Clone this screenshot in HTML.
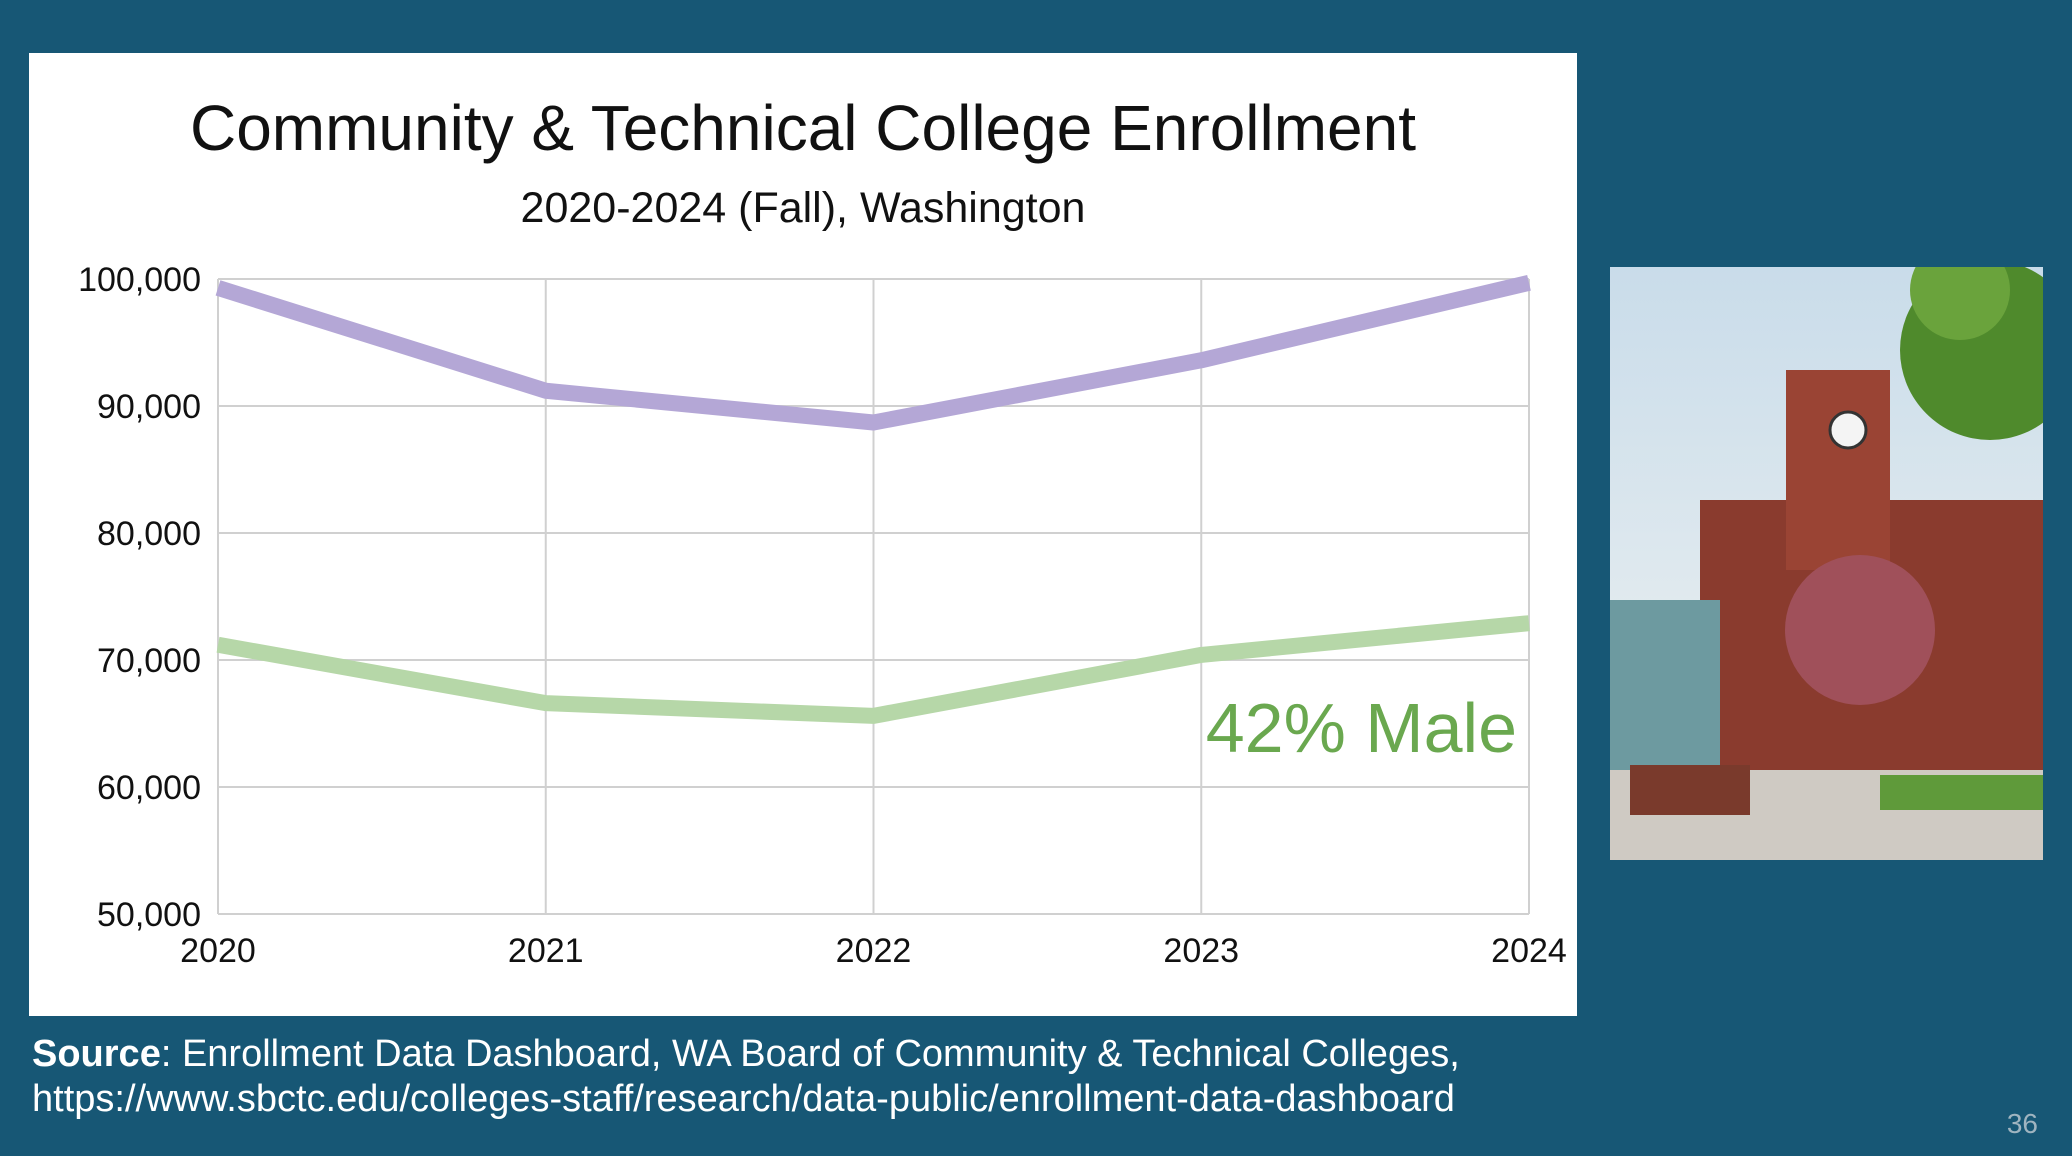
<!DOCTYPE html>
<html><head><meta charset="utf-8"><style>
html,body{margin:0;padding:0}
body{width:2072px;height:1156px;background:#175775;position:relative;overflow:hidden;font-family:"Liberation Sans",Arial,sans-serif}
#panel{position:absolute;left:29px;top:53px;width:1548px;height:963px;background:#fff}
.src{position:absolute;left:32px;color:#fff;font-size:38px;white-space:nowrap}
</style></head><body>
<div id="panel"></div>
<svg id="chart" width="2072" height="1156" style="position:absolute;left:0;top:0">
<text x="803" y="150" text-anchor="middle" font-size="64" fill="#111">Community &amp; Technical College Enrollment</text>
<text x="803" y="222" text-anchor="middle" font-size="43" fill="#111">2020-2024 (Fall), Washington</text>
<g id="grid"></g><g id="series"></g>
<text x="1517" y="752" text-anchor="end" font-size="70" fill="#6aa84f">42% Male</text>
<g clip-path="url(#pc)">
<defs><clipPath id="pc"><rect x="1610" y="267" width="433" height="593"/></clipPath>
<linearGradient id="sky" x1="0" y1="0" x2="0" y2="1"><stop offset="0" stop-color="#c9dcea"/><stop offset="1" stop-color="#f2f4f2"/></linearGradient></defs>
<rect x="1610" y="267" width="433" height="593" fill="url(#sky)"/>
<rect x="1700" y="500" width="343" height="270" fill="#8a3b2e"/>
<rect x="1786" y="370" width="104" height="200" fill="#9a4434"/>
<circle cx="1848" cy="430" r="18" fill="#f4f4f4" stroke="#333" stroke-width="3"/>
<rect x="1610" y="600" width="110" height="170" fill="#6d9aa0"/>
<circle cx="1860" cy="630" r="75" fill="#a0505a"/>
<circle cx="1990" cy="350" r="90" fill="#4f8a2c"/>
<circle cx="1960" cy="290" r="50" fill="#6aa33c"/>
<rect x="1610" y="770" width="433" height="90" fill="#cfcac3"/>
<rect x="1880" y="775" width="163" height="35" fill="#5f9a3a"/>
<rect x="1630" y="765" width="120" height="50" fill="#7a3a2c"/>
</g>
<text x="2038" y="1133" text-anchor="end" font-size="28" fill="#9fb4c0">36</text>
</svg>
<div class="src" style="top:1033px"><b>Source</b>: Enrollment Data Dashboard, WA Board of Community &amp; Technical Colleges,</div>
<div class="src" style="top:1078px">https://www.sbctc.edu/colleges-staff/research/data-public/enrollment-data-dashboard</div>
<script>
const years = ['2020','2021','2022','2023','2024'];
const totalEnrollment = [99300, 91200, 88700, 93600, 99700];
const maleEnrollment = [71200, 66600, 65600, 70400, 72900];
const yTicks = [50000, 60000, 70000, 80000, 90000, 100000];
const NS='http://www.w3.org/2000/svg';
const X0=218,X1=1529,Y0=914,Y1=279,YMIN=50000,YMAX=100000;
const xs=i=>X0+(X1-X0)*i/(years.length-1);
const ys=v=>Y0-(v-YMIN)/(YMAX-YMIN)*(Y0-Y1);
const grid=document.getElementById('grid'),ser=document.getElementById('series');
function mk(t,a,p){const e=document.createElementNS(NS,t);for(const k in a)e.setAttribute(k,a[k]);p.appendChild(e);return e;}
yTicks.forEach(v=>{
  const l=mk('line',{x1:X0,x2:X1,y1:ys(v),y2:ys(v),stroke:'#d0d0d0','stroke-width':2},grid);
  
  
  const t=mk('text',{x:201,y:ys(v)+12,'text-anchor':'end','font-size':34,fill:'#111'},grid);
  t.textContent=v.toLocaleString('en-US');
  
  
});
years.forEach((y,i)=>{
  const l=mk('line',{x1:xs(i),x2:xs(i),y1:Y1,y2:Y0,stroke:'#d0d0d0','stroke-width':2},grid);
  
  
  const t=mk('text',{x:xs(i),y:962,'text-anchor':'middle','font-size':34,fill:'#111'},grid);
  t.textContent=y;
  
  
});
function line(vals,color,name){
  const p=mk('polyline',{points:vals.map((v,i)=>xs(i)+','+ys(v)).join(' '),fill:'none',stroke:color,'stroke-width':16,'stroke-linejoin':'round'},ser);
  
  
}
line(totalEnrollment,'#b4a7d6','total-enrollment-line');
line(maleEnrollment,'#b6d7a8','male-enrollment-line');
</script>
</body></html>
